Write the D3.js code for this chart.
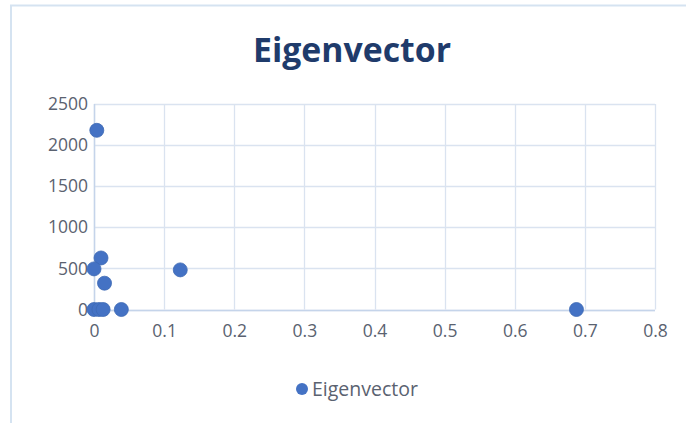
<!DOCTYPE html>
<html>
<head>
  <meta charset="utf-8">
  <script src="https://cdn.jsdelivr.net/npm/d3@7"></script>
  <style>
    body { margin: 0; background: #ffffff; }
    svg { display: block; }
    text { font-family: "Open Sans", "Liberation Sans", sans-serif; }
  </style>
</head>
<body>
  <svg width="686" height="423"></svg>
  <script>
    // data
    var seriesName = "Eigenvector";
    var xValues = [0.004, 0.010, 0.000, 0.015, 0.123, 0.000, 0.007, 0.013, 0.039, 0.688];
    var yValues = [2180, 627, 494, 320, 482, 0, 0, 0, 0, 0];
    var xTicks = [0, 0.1, 0.2, 0.3, 0.4, 0.5, 0.6, 0.7, 0.8];
    var yTicks = [0, 500, 1000, 1500, 2000, 2500];

    var svg = d3.select("svg");

    // chart frame (left and top edges visible)
    svg.append("path")
      .attr("d", "M11,423 L11,5.5 L686,5.5")
      .attr("fill", "none")
      .attr("stroke", "#d5e3f1")
      .attr("stroke-width", 2);

    var x = d3.scaleLinear().domain([0, 0.8]).range([94, 655]);
    var y = d3.scaleLinear().domain([0, 2500]).range([309.5, 104]);

    // gridlines
    svg.append("g").selectAll("line")
      .data(yTicks).enter().append("line")
      .attr("x1", x(0)).attr("x2", x(0.8))
      .attr("y1", function(d) { return Math.round(y(d)) + 0.5; })
      .attr("y2", function(d) { return Math.round(y(d)) + 0.5; })
      .attr("stroke", "#dae3f0").attr("stroke-width", 1.3);

    svg.append("g").selectAll("line")
      .data(xTicks).enter().append("line")
      .attr("y1", y(0)).attr("y2", y(2500))
      .attr("x1", function(d) { return Math.round(x(d)) + 0.5; })
      .attr("x2", function(d) { return Math.round(x(d)) + 0.5; })
      .attr("stroke", "#dae3f0").attr("stroke-width", 1.3);

    // axis lines
    svg.append("line")
      .attr("x1", x(0)).attr("x2", x(0.8))
      .attr("y1", Math.round(y(0)) + 0.5).attr("y2", Math.round(y(0)) + 0.5)
      .attr("stroke", "#c5d4ea").attr("stroke-width", 1.5);
    svg.append("line")
      .attr("x1", Math.round(x(0)) + 0.5).attr("x2", Math.round(x(0)) + 0.5)
      .attr("y1", y(0)).attr("y2", y(2500))
      .attr("stroke", "#c5d4ea").attr("stroke-width", 1.5);

    // tick labels via d3 axes, domain and ticks hidden
    var xAxis = d3.axisBottom(x).tickValues(xTicks).tickSize(0).tickPadding(0)
      .tickFormat(function(d) { return d === 0 ? "0" : d3.format(".1f")(d); });
    var yAxis = d3.axisLeft(y).tickValues(yTicks).tickSize(0).tickPadding(0)
      .tickFormat(d3.format("d"));

    var gx = svg.append("g").attr("transform", "translate(0," + 325 + ")").call(xAxis);
    var gy = svg.append("g").attr("transform", "translate(" + 88 + ",0)").call(yAxis);
    [gx, gy].forEach(function(g) {
      g.select(".domain").remove();
      g.selectAll("text")
        .attr("fill", "#5a6270")
        .style("font-size", "17.5px")
        .style("font-family", "'Open Sans', sans-serif");
    });
    gx.selectAll("text").attr("dy", "0.71em");

    // points
    svg.append("g").selectAll("circle")
      .data(xValues).enter().append("circle")
      .attr("cx", function(d) { return x(d); })
      .attr("cy", function(d, i) { return y(yValues[i]); })
      .attr("r", 7)
      .attr("fill", "#4472c4")
      .attr("stroke", "#3e69b4")
      .attr("stroke-width", 0.8);

    // title, scaled to the width seen in the picture
    var title = svg.append("text")
      .attr("x", 352).attr("y", 62)
      .attr("text-anchor", "middle")
      .attr("fill", "#1f3b6b")
      .style("font-weight", "bold")
      .style("font-size", "30px")
      .text(seriesName);
    var tw = title.node().getComputedTextLength();
    title.style("font-size", (30 * 198 / tw) + "px");

    // legend
    var legend = svg.append("g");
    legend.append("circle")
      .attr("cx", 302).attr("cy", 389).attr("r", 6)
      .attr("fill", "#4472c4");
    var lt = legend.append("text")
      .attr("x", 312).attr("y", 389)
      .attr("dy", "0.35em")
      .attr("fill", "#5a6270")
      .style("font-size", "17px")
      .text(seriesName);
    var lw = lt.node().getComputedTextLength();
    lt.style("font-size", (17 * 106 / lw) + "px");
  </script>
</body>
</html>
